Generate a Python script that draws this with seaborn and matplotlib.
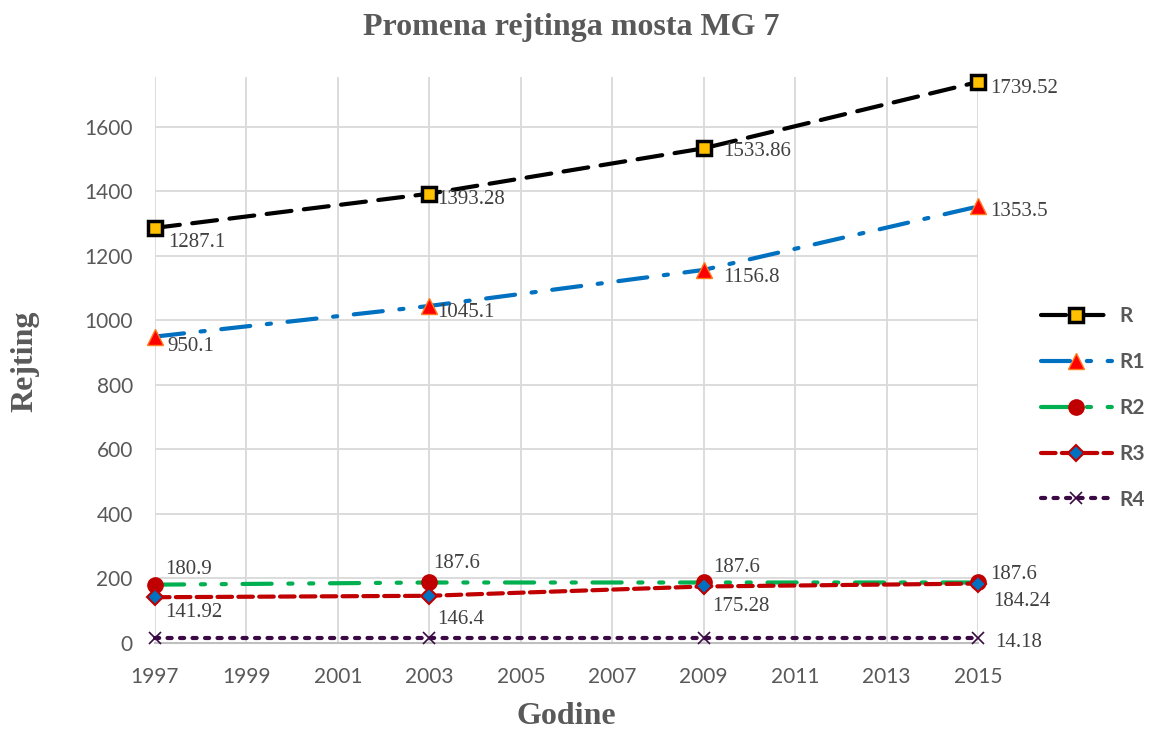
import matplotlib
matplotlib.use("Agg")
import matplotlib.pyplot as plt
import seaborn as sns
import pandas as pd

years = [1997, 2003, 2009, 2015]
R = [1287.1, 1393.28, 1533.86, 1739.52]
R1 = [950.1, 1045.1, 1156.8, 1353.5]
R2 = [180.9, 187.6, 187.6, 187.6]
R3 = [141.92, 146.4, 175.28, 184.24]
R4 = [14.18, 14.18, 14.18, 14.18]
series_names = ["R", "R1", "R2", "R3", "R4"]
x_ticks = list(range(1997, 2016, 2))
y_ticks = list(range(0, 1601, 200))

sns.set_theme(style="white")
plt.rcParams['font.family'] = ['Lato', 'DejaVu Sans']

fig = plt.figure(figsize=(11.49, 7.31), dpi=100)
ax = fig.add_axes([155/1149, 1-643/731, (978-155)/1149, (643-77)/731])

values = {"R": R, "R1": R1, "R2": R2, "R3": R3, "R4": R4}
df = pd.DataFrame([(s, y, v) for s in series_names for y, v in zip(years, values[s])],
                  columns=["serija", "godina", "vrednost"])

styles = {
    "R":  dict(color="black", dashes=(6, 3), marker="s", ms=10, mfc="#FFC000", mec="black", mew=2.5),
    "R1": dict(color="#0070C0", dashes=(7, 4, 1, 4), marker="^", ms=11, mfc="#FF0000", mec="#FF7A1A", mew=1),
    "R2": dict(color="#00B050", dashes=(7, 4, 1, 4, 1, 4), marker="o", ms=11, mfc="#C00000", mec="#C00000", mew=1),
    "R3": dict(color="#C00000", dashes=(3.5, 1.5), marker="D", ms=8, mfc="#0070C0", mec="#C00000", mew=1.5),
    "R4": dict(color="#3B0A45", dashes=(1, 2), marker="x", ms=9, mfc="#3B0A45", mec="#3B0A45", mew=1.2),
}

handles = []
for s in series_names:
    st = styles[s]
    sub = df[df.serija == s]
    sns.lineplot(data=sub, x="godina", y="vrednost", ax=ax, color=st["color"], lw=3,
                 legend=False, zorder=3)
    line = ax.lines[-1]
    line.set_dashes(st["dashes"])
    line.set_dash_capstyle("round")
    line.set_marker(st["marker"])
    line.set_markersize(st["ms"])
    line.set_markerfacecolor(st["mfc"])
    line.set_markeredgecolor(st["mec"])
    line.set_markeredgewidth(st["mew"])
    line.set_clip_on(False)
    line.set_label(s)
    handles.append(line)

ax.set_xlabel("")
ax.set_ylabel("")

# data labels (offsets in pixels)
offsets = {
    "R":  [(13, -15), (8, -6), (20, -3), (12, -7)],
    "R1": [(12, -10), (8, -7), (20, -8), (12, -5)],
    "R2": [(10, 15), (4, 19), (10, 15), (12, 8)],
    "R3": [(10, -15), (8, -24), (9, -20), (15, -18)],
}
lab_kw = dict(textcoords="offset pixels", ha="left", va="center", fontsize=15,
              color="#404040", family="Liberation Serif", zorder=5)
for s, offs in offsets.items():
    for x, v, (dx, dy) in zip(years, values[s], offs):
        ax.annotate(f"{v:g}", (x, v), xytext=(dx, dy), **lab_kw)
ax.annotate(f"{R4[-1]:g}", (years[-1], R4[-1]), xytext=(17, -4), **lab_kw)

ax.set_xlim(1997, 2015)
ax.set_ylim(0, 1755)
ax.set_xticks(x_ticks)
ax.set_yticks(y_ticks)
ax.grid(True, color="#D9D9D9", lw=1.3)
ax.set_axisbelow(True)
for sp in ["top", "right", "left"]:
    ax.spines[sp].set_visible(False)
ax.spines["bottom"].set_color("#BFBFBF")
ax.spines["bottom"].set_linewidth(1.5)
ax.tick_params(axis="both", length=0, labelsize=15, labelcolor="#595959")
ax.tick_params(axis="x", pad=17)
ax.tick_params(axis="y", pad=16)

fig.text(571/1149, 1-27/731, "Promena rejtinga mosta MG 7", family="Liberation Serif",
         fontweight="bold", fontsize=23, color="#595959", ha="center", va="center")
fig.text(566/1149, 1-716/731, "Godine", family="Liberation Serif", fontweight="bold",
         fontsize=23, color="#595959", ha="center", va="center")
fig.text(25/1149, 1-361/731, "Rejting", family="Liberation Serif", fontweight="bold",
         fontsize=23, color="#595959", ha="center", va="center", rotation=90)

leg = fig.legend(handles=handles, labels=series_names, loc="center left",
                 bbox_to_anchor=(1041/1149, 1-408/731), frameon=False, borderpad=0,
                 borderaxespad=0,
                 prop=dict(family="Lato", weight="bold", size=15), labelcolor="#595959",
                 handlelength=3.4, labelspacing=1.24, numpoints=1, handletextpad=0.35)

fig.savefig("out.png", dpi=100)
